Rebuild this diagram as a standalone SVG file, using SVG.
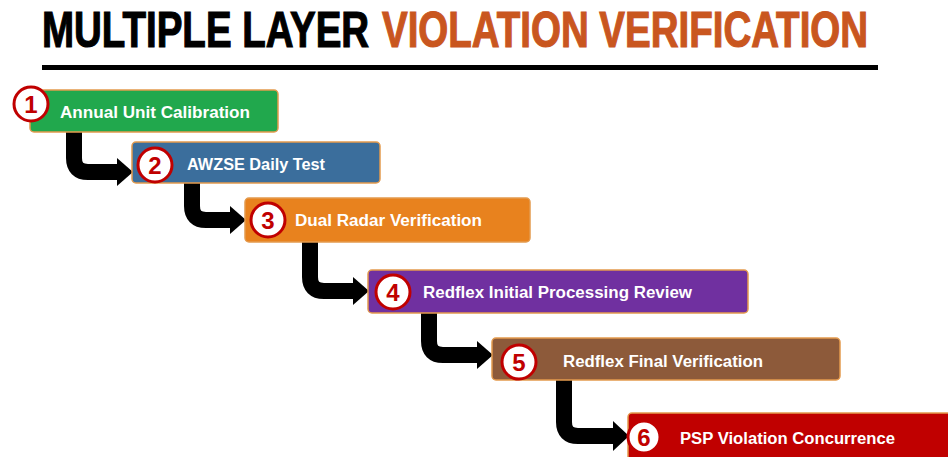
<svg xmlns="http://www.w3.org/2000/svg" width="948" height="457" viewBox="0 0 948 457">
<style>
.title{font-family:"Liberation Sans",Arial,sans-serif;font-weight:bold;font-size:38.5px;stroke-width:0.9}
.box{stroke:#e39a4e;stroke-width:1.5}
.lbl{font-family:"Liberation Sans",Arial,sans-serif;font-weight:bold;font-size:16px;fill:#ffffff}
.badge{fill:#ffffff;stroke:#c00000;stroke-width:3}
.num{font-family:"Liberation Sans",Arial,sans-serif;font-weight:bold;font-size:24px;fill:#c00000;text-anchor:middle}
.arr{fill:none;stroke:#000000;stroke-width:16}
.head{fill:#000000}
</style>
<rect width="948" height="457" fill="#ffffff"/>
<g id="title">
<g transform="scale(1,1.28)">
<text class="title" x="42" y="36.7" fill="#000000" stroke="#000000">MULTIPLE LAYER</text>
<text class="title" x="382" y="36.7" fill="#c9561f" stroke="#c9561f">VIOLATION VERIFICATION</text>
</g>
<rect x="42" y="65" width="836" height="5" fill="#000000"/>
</g>
<g id="connectors">
<path class="arr" d="M74,132 V158 Q74,172 88,172 H118"/>
<polygon class="head" points="117,158 133,172 117,186"/>
<path class="arr" d="M192,183 V206 Q192,220 206,220 H231"/>
<polygon class="head" points="230,206 246,220 230,234"/>
<path class="arr" d="M310,242 V277 Q310,291 324,291 H354"/>
<polygon class="head" points="353,277 369,291 353,305"/>
<path class="arr" d="M429,313 V341 Q429,355 443,355 H478"/>
<polygon class="head" points="477,341 493,355 477,369"/>
<path class="arr" d="M564,380 V422 Q564,436 578,436 H614"/>
<polygon class="head" points="613,421 629,436 613,451"/>
</g>
<g id="node1">
<rect class="box" x="30" y="90" width="248" height="42" rx="4" fill="#21a84d"/>
<text class="lbl" x="60" y="118" textLength="190" lengthAdjust="spacingAndGlyphs">Annual Unit Calibration</text>
<circle class="badge" cx="31" cy="104" r="17"/>
<text class="num" x="31" y="113">1</text>
</g>
<g id="node2">
<rect class="box" x="132" y="142" width="248" height="41" rx="4" fill="#3b6e9c"/>
<text class="lbl" x="187" y="170" textLength="138" lengthAdjust="spacingAndGlyphs">AWZSE Daily Test</text>
<circle class="badge" cx="155" cy="165" r="17"/>
<text class="num" x="155" y="174">2</text>
</g>
<g id="node3">
<rect class="box" x="245" y="198" width="285" height="44" rx="4" fill="#e8821e"/>
<text class="lbl" x="295" y="226" textLength="187" lengthAdjust="spacingAndGlyphs">Dual Radar Verification</text>
<circle class="badge" cx="268" cy="220" r="17"/>
<text class="num" x="268" y="229">3</text>
</g>
<g id="node4">
<rect class="box" x="368" y="270" width="380" height="43" rx="4" fill="#7030a0"/>
<text class="lbl" x="423" y="298" textLength="269" lengthAdjust="spacingAndGlyphs">Redflex Initial Processing Review</text>
<circle class="badge" cx="393" cy="292" r="17"/>
<text class="num" x="393" y="301">4</text>
</g>
<g id="node5">
<rect class="box" x="492" y="338" width="348" height="42" rx="4" fill="#8d5a3a"/>
<text class="lbl" x="563" y="367" textLength="200" lengthAdjust="spacingAndGlyphs">Redflex Final Verification</text>
<circle class="badge" cx="519" cy="362" r="17"/>
<text class="num" x="519" y="371">5</text>
</g>
<g id="node6">
<rect class="box" x="628" y="413" width="330" height="54" rx="4" fill="#c00000"/>
<text class="lbl" x="680" y="444" textLength="215" lengthAdjust="spacingAndGlyphs">PSP Violation Concurrence</text>
<circle class="badge" cx="644" cy="437" r="16"/>
<text class="num" x="644" y="446">6</text>
</g>
</svg>
